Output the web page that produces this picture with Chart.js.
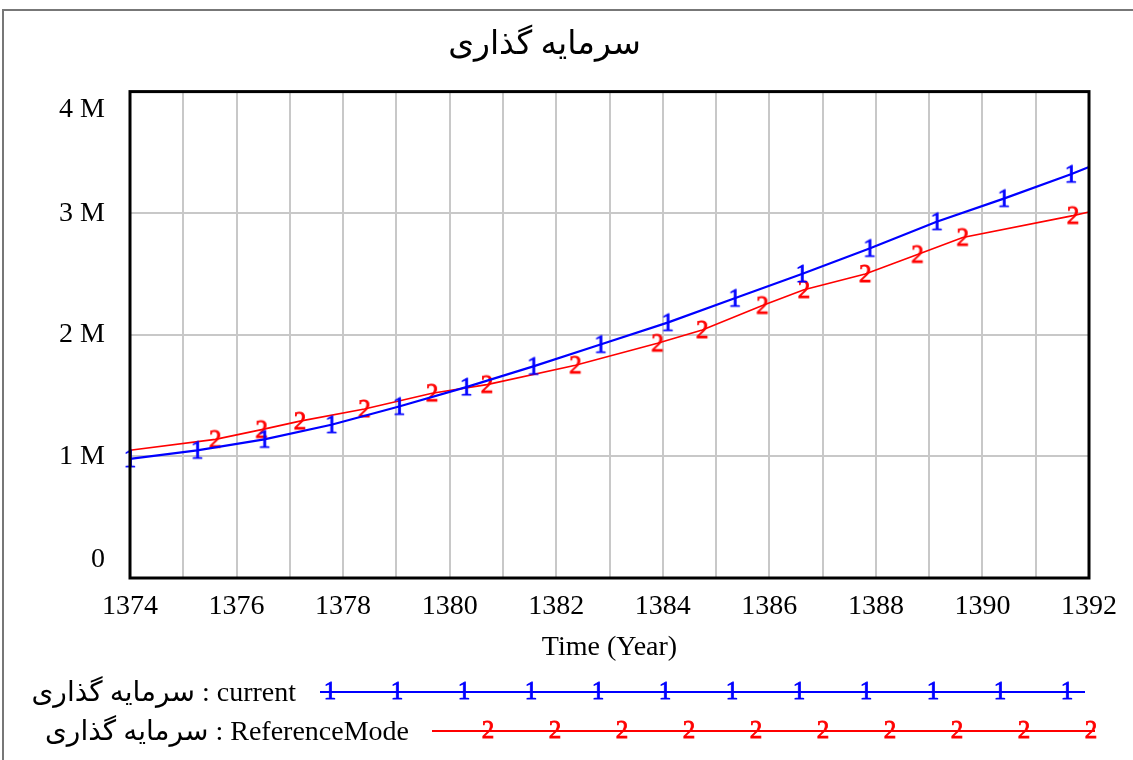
<!DOCTYPE html>
<html>
<head>
<meta charset="utf-8">
<script src="https://cdn.jsdelivr.net/npm/chart.js@4"></script>
<style>
  html, body { margin: 0; padding: 0; background: #fff; }
  #frame { position: absolute; left: 2px; top: 9px; width: 1140px; height: 760px;
           border-left: 2px solid #777; border-top: 2px solid #777; }
  #chart { position: absolute; left: 0; top: 0; }
</style>
</head>
<body>
<div id="frame"></div>
<canvas id="chart" width="1133" height="760"></canvas>
<script>
const title = 'سرمایه گذاری';
const xTitle = 'Time (Year)';

// marker times of the "current" run and its values (millions)
const currentYears  = [1374, 1375.26, 1376.52, 1377.78, 1379.05, 1380.31, 1381.57, 1382.83, 1384.09, 1385.35, 1386.61, 1387.88, 1389.14, 1390.40, 1391.66, 1392];
const currentValues = [0.98, 1.05, 1.14, 1.26, 1.41, 1.57, 1.74, 1.92, 2.10, 2.30, 2.50, 2.71, 2.93, 3.12, 3.32, 3.38];

// reference mode data (millions)
const refYears  = [1374, 1375.6, 1376.47, 1377.19, 1378.4, 1379.67, 1380.7, 1382.36, 1383.9, 1384.74, 1385.87, 1386.65, 1387.8, 1388.78, 1389.63, 1391.7, 1392];
const refValues = [1.05, 1.14, 1.22, 1.29, 1.39, 1.52, 1.59, 1.75, 1.93, 2.04, 2.24, 2.37, 2.50, 2.66, 2.80, 2.98, 3.01];

const seriesLabels = ['سرمایه گذاری : current', 'سرمایه گذاری : ReferenceMode'];
const yTicks = [0, 1, 2, 3, 4];

const SERIF = '"Liberation Serif", "Times New Roman", "DejaVu Sans", serif';

function glyph(text, color) {
  const c = document.createElement('canvas');
  c.width = 22; c.height = 30;
  const g = c.getContext('2d');
  g.fillStyle = color;
  g.strokeStyle = color;
  g.lineWidth = 0.8;
  g.font = '25px ' + SERIF;
  g.textAlign = 'center';
  g.textBaseline = 'middle';
  g.fillText(text, 11, 16);
  g.strokeText(text, 11, 16);
  return c;
}
const mark1 = glyph('1', '#0000ff');
const mark2 = glyph('2', '#ff0000');

const frameBox = {
  id: 'frameBox',
  afterDatasetsDraw(chart) {
    const a = chart.chartArea, ctx = chart.ctx;
    ctx.save();
    ctx.strokeStyle = '#000';
    ctx.lineWidth = 3;
    ctx.strokeRect(a.left, a.top, a.right - a.left, a.bottom - a.top);
    ctx.restore();
  },
  afterDraw(chart) {
    const ctx = chart.ctx;
    const rows = [
      { y: 692, textRight: 296, x0: 320, x1: 1085, first: 330, n: 12, img: mark1 },
      { y: 731, textRight: 409, x0: 432, x1: 1095, first: 488, n: 10, img: mark2 }
    ];
    ctx.save();
    rows.forEach((r, i) => {
      const ds = chart.data.datasets[i];
      ctx.font = '28px ' + SERIF;
      ctx.fillStyle = '#000';
      ctx.textAlign = 'right';
      ctx.textBaseline = 'middle';
      ctx.direction = 'ltr';
      ctx.fillText(seriesLabels[i], r.textRight, r.y + 2);
      ctx.strokeStyle = ds.borderColor;
      ctx.lineWidth = 2;
      ctx.beginPath();
      ctx.moveTo(r.x0, r.y);
      ctx.lineTo(r.x1, r.y);
      ctx.stroke();
      for (let k = 0; k < r.n; k++) {
        const x = r.first + k * 67;
        ctx.drawImage(r.img, x - r.img.width / 2, r.y - r.img.height / 2 - 1);
      }
    });
    ctx.restore();
  }
};

new Chart(document.getElementById('chart').getContext('2d'), {
  type: 'line',
  data: {
    datasets: [
      {
        label: seriesLabels[0],
        data: currentYears.map((x, i) => ({ x, y: currentValues[i] })),
        borderColor: '#0000ff',
        borderWidth: 2.2,
        tension: 0,
        pointStyle: mark1,
        pointRadius: c => (c.dataIndex < currentYears.length - 1 ? 6 : 0),
        clip: 6
      },
      {
        label: seriesLabels[1],
        data: refYears.map((x, i) => ({ x, y: refValues[i] })),
        borderColor: '#ff0000',
        borderWidth: 1.6,
        tension: 0,
        pointStyle: mark2,
        pointRadius: c => (c.dataIndex > 0 && c.dataIndex < refYears.length - 1 ? 6 : 0),
        clip: 6
      }
    ]
  },
  options: {
    responsive: false,
    animation: false,
    layout: { padding: { top: 12, right: 44, bottom: 92, left: 0 } },
    plugins: {
      legend: { display: false },
      tooltip: { enabled: false },
      title: {
        display: true,
        text: title,
        color: '#000',
        font: { family: SERIF, size: 33, weight: 'normal' },
        padding: { top: 14, bottom: 26 }
      }
    },
    scales: {
      x: {
        type: 'linear',
        min: 1374,
        max: 1392,
        ticks: {
          stepSize: 1,
          autoSkip: false,
          maxRotation: 0,
          padding: 12,
          color: '#000',
          font: { family: SERIF, size: 28 },
          callback: v => (v % 2 === 0 ? String(v) : '')
        },
        grid: { color: '#c8c8c8', lineWidth: 2, drawTicks: false },
        border: { display: false },
        title: {
          display: true,
          text: xTitle,
          color: '#000',
          font: { family: SERIF, size: 28 },
          padding: { top: 0, bottom: 4 }
        },
        afterFit: s => { s.height = 90; }
      },
      y: {
        min: 0,
        max: 4,
        afterBuildTicks: s => { s.ticks = yTicks.map(v => ({ value: v })); },
        ticks: {
          padding: 25,
          color: '#000',
          font: c => ({ family: SERIF, size: 28, lineHeight: (c.index === 0 || c.index === yTicks.length - 1) ? 1.3 : 1.2 }),
          callback: v => {
            const t = v === 0 ? '0' : v + ' M';
            if (v === yTicks[yTicks.length - 1]) return ['', t];
            if (v === yTicks[0]) return [t, ''];
            return t;
          }
        },
        grid: { color: '#c8c8c8', lineWidth: 2, drawTicks: false },
        border: { display: false },
        afterFit: s => { s.width = 130; }
      }
    }
  },
  plugins: [frameBox]
});
</script>
</body>
</html>
